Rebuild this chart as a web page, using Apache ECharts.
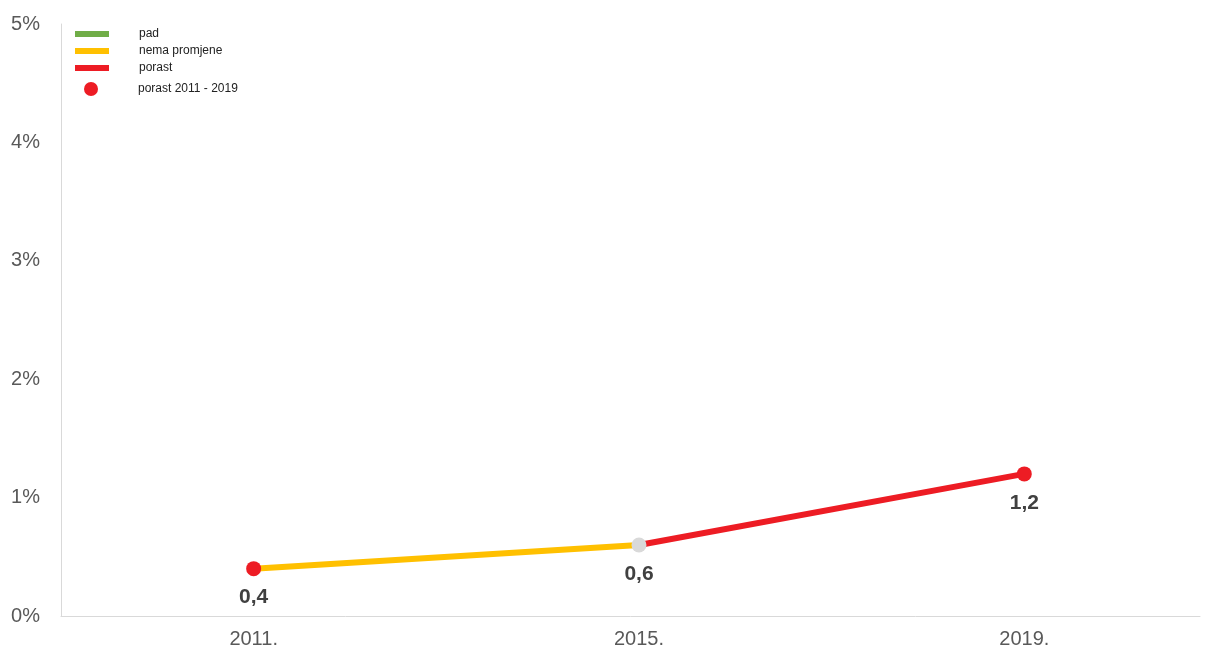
<!DOCTYPE html>
<html>
<head>
<meta charset="utf-8">
<script src="https://cdn.jsdelivr.net/npm/echarts@6/dist/echarts.min.js"></script>
<style>html,body{margin:0;padding:0;background:#fff}#c{width:1209px;height:655px}</style>
</head>
<body>
<div id="c"></div>
<script>
const years = ['2011.', '2015.', '2019.'];
const values = [0.4, 0.6, 1.2];
// trend of the segment ending at each point ('' for first)
const segmentTrend = ['', 'nema promjene', 'porast'];
const pointStatus = ['porast', 'neutral', 'porast'];
const yTicks = [0, 1, 2, 3, 4, 5];

const FONT = '"Liberation Sans Narrow", "Liberation Sans", Arial, sans-serif';
const colors = { 'pad': '#70AD47', 'nema promjene': '#FFC000', 'porast': '#ED1C24', 'neutral': '#D9D9D9' };

function segData(trend) {
  const out = [];
  for (let i = 1; i < values.length; i++) {
    if (segmentTrend[i] === trend) {
      out.push([i - 1, values[i - 1]], [i, values[i]], null);
    }
  }
  return out;
}
const lineSeries = ['pad', 'nema promjene', 'porast'].map(t => ({
  name: t, type: 'line', data: segData(t), showSymbol: false, connectNulls: false,
  lineStyle: { color: colors[t], width: 6 }, itemStyle: { color: colors[t] },
  silent: true, z: 2
}));

const chart = echarts.init(document.getElementById('c'));
chart.setOption({
  animation: false,
  grid: { left: 61, right: 9, top: 24, bottom: 39, outerBoundsMode: 'none', containLabel: false },
  legend: [{
    data: ['pad', 'nema promjene', 'porast'],
    orient: 'vertical', left: 70, top: 22, itemWidth: 34, itemHeight: 6, itemGap: 3,
    icon: 'rect',
    textStyle: { fontFamily: FONT, fontSize: 12, color: '#222', lineHeight: 14, padding: [0, 0, 0, 25] }
  }, {
    data: [{ name: 'porast 2011 - 2019', icon: 'circle' }],
    orient: 'vertical', left: 79, top: 77, itemWidth: 14, itemHeight: 14,
    itemStyle: { opacity: 1 },
    textStyle: { fontFamily: FONT, fontSize: 12, color: '#222', lineHeight: 14, padding: [0, 0, 0, 35] }
  }],
  xAxis: {
    type: 'value', min: -0.5, max: 2.456, interval: 0.5,
    axisLine: { show: true, onZero: false, lineStyle: { color: '#D9D9D9', width: 1 } },
    axisTick: { show: false }, splitLine: { show: false },
    axisLabel: {
      margin: 13, fontFamily: FONT, fontSize: 20, color: '#595959',
      showMinLabel: true, showMaxLabel: false,
      formatter: v => (Number.isInteger(v) && years[v] !== undefined) ? years[v] : ''
    }
  },
  yAxis: {
    type: 'value', min: 0, max: 5, interval: 1,
    axisLine: { show: true, onZero: false, lineStyle: { color: '#D9D9D9', width: 1 } },
    axisTick: { show: false }, splitLine: { show: false },
    axisLabel: { margin: 21, fontFamily: FONT, fontSize: 20, color: '#595959', formatter: v => yTicks.includes(v) ? v + '%' : '' }
  },
  series: lineSeries.concat([{
    name: 'porast 2011 - 2019', type: 'scatter', symbol: 'circle', symbolSize: 15, z: 5,
    itemStyle: { color: colors['porast'], opacity: 1 },
    data: values.map((v, i) => ({ value: [i, v], itemStyle: { color: colors[pointStatus[i]], opacity: 1 } })),
    label: {
      show: true, position: 'bottom', distance: 11, fontFamily: FONT, fontSize: 21, fontWeight: 'bold', color: '#404040', opacity: 1,
      formatter: p => String(p.value[1]).replace('.', ',')
    }
  }])
});
</script>
</body>
</html>
